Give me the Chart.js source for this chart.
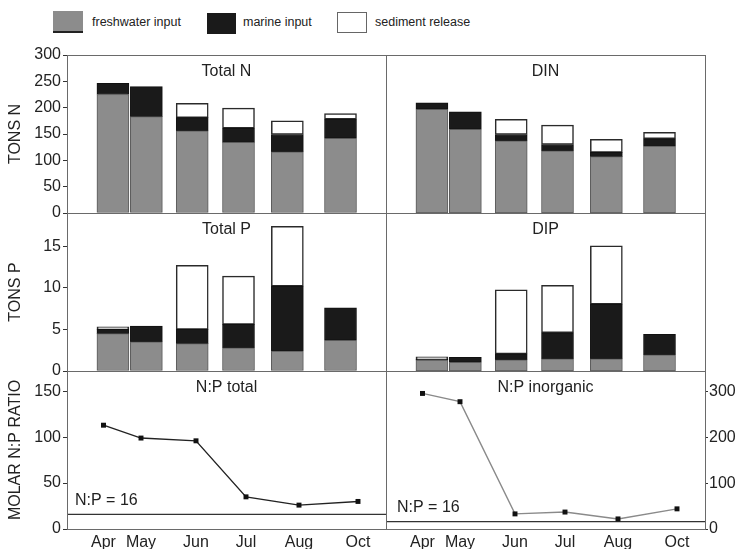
<!DOCTYPE html>
<html>
<head>
<meta charset="utf-8">
<script src="https://cdn.jsdelivr.net/npm/chart.js@4/dist/chart.umd.min.js"></script>
<style>
  html, body { margin: 0; padding: 0; background: #fff; }
  #wrap { position: relative; width: 739px; height: 549px; overflow: hidden; background: #fff; }
  #wrap canvas { position: absolute; left: 0; top: 0; }
  .key { position: absolute; box-sizing: border-box; }
  .lbl { position: absolute; top: 14px; font-family: "Liberation Sans", Arial, sans-serif; font-size: 12.5px; color: #222; line-height: 16px; white-space: nowrap; }
</style>
</head>
<body>
<div id="wrap">
  <div class="key" style="left:53px;top:11px;width:30px;height:22px;background:#8c8c8c;border-bottom:2px solid #222;"></div>
  <div class="lbl" style="left:92px;">freshwater input</div>
  <div class="key" style="left:207px;top:13px;width:29px;height:21px;background:#1a1a1a;"></div>
  <div class="lbl" style="left:243px;">marine input</div>
  <div class="key" style="left:337px;top:12px;width:30px;height:21px;background:#fff;border:1px solid #666;"></div>
  <div class="lbl" style="left:375px;">sediment release</div>

  <canvas id="cTotalN" width="739" height="549"></canvas>
  <canvas id="cDIN" width="739" height="549"></canvas>
  <canvas id="cTotalP" width="739" height="549"></canvas>
  <canvas id="cDIP" width="739" height="549"></canvas>
  <canvas id="cRatioT" width="739" height="549"></canvas>
  <canvas id="cRatioI" width="739" height="549"></canvas>
</div>
<script>
// Sampling months and their places along the horizontal axis
const months = ['Apr', 'May', 'Jun', 'Jul', 'Aug', 'Oct'];
const barSlot = [2.7, 6.6, 11.95, 17.35, 23.05, 29.25];
const sampleSlot = [3.65, 7.4, 12.9, 17.9, 23.2, 29.1];

// Total nitrogen budget (tons N)
const totalNFresh = [225, 183, 156, 134, 116, 142];
const totalNMarine = [21, 57, 25, 27, 33, 36];
const totalNSediment = [0, 0, 27, 38, 26, 11];

// Dissolved inorganic nitrogen (tons N)
const dinFresh = [197, 159, 137, 118, 107, 127];
const dinMarine = [12, 33, 12, 12, 8, 14];
const dinSediment = [0, 0, 29, 37, 25, 12];

// Total phosphorus budget (tons P)
const totalPFresh = [4.5, 3.5, 3.3, 2.8, 2.4, 3.7];
const totalPMarine = [0.5, 1.9, 1.7, 2.8, 7.8, 3.9];
const totalPSediment = [0.3, 0, 7.7, 5.8, 7.2, 0];

// Dissolved inorganic phosphorus (tons P)
const dipFresh = [1.3, 1.05, 1.35, 1.45, 1.45, 1.95];
const dipMarine = [0.1, 0.6, 0.7, 3.15, 6.6, 2.45];
const dipSediment = [0.3, 0, 7.7, 5.7, 7.0, 0];

// Molar N:P ratios of the inputs
const ratioTotal = [113, 99, 96, 35, 26, 30];
const ratioInorganic = [296, 278, 33, 37, 22, 44];
const redfieldRatio = 16;

const FONT = '"Liberation Sans", Arial, Helvetica, sans-serif';
const INK = '#222';
const X_MAX = 31.9;

Chart.defaults.font.family = FONT;
Chart.defaults.font.size = 16;
Chart.defaults.color = INK;
Chart.defaults.animation = false;
Chart.defaults.plugins.legend.display = false;
Chart.defaults.plugins.tooltip.enabled = false;

// Frame, panel heading and the N:P = 16 note for every panel
const panelPlugin = {
  id: 'panel',
  afterDraw(chart, args, opts) {
    const { ctx, chartArea: a } = chart;
    ctx.save();
    ctx.fillStyle = INK;
    ctx.font = '16px ' + FONT;
    ctx.textAlign = 'center';
    ctx.textBaseline = 'middle';
    if (opts.title) ctx.fillText(opts.title, (a.left + a.right) / 2, a.top + 17);
    if (opts.note) {
      const y = chart.scales[opts.note.axis].getPixelForValue(redfieldRatio);
      ctx.textAlign = 'left';
      ctx.fillText('N:P = ' + redfieldRatio, a.left + opts.note.dx, y - 14);
    }
    ctx.strokeStyle = '#6a6a6a';
    ctx.lineWidth = 1;
    const l = Math.round(a.left) + 0.5, t = Math.round(a.top) + 0.5;
    ctx.strokeRect(l, t, Math.round(a.right) - Math.round(a.left), Math.round(a.bottom) - Math.round(a.top));
    ctx.restore();
  }
};

const toBarPoints = (vals) => vals.map((v, i) => ({ x: barSlot[i], y: v > 0 ? v : null }));

function barPanel(id, pad, fresh, marine, sediment, yMax, yStep, yTitle, title) {
  const showY = !!yTitle;
  const barBase = { barThickness: 32, borderSkipped: false, stack: 'inputs' };
  new Chart(document.getElementById(id), {
    type: 'bar',
    data: {
      datasets: [
        Object.assign({ label: 'freshwater input', data: toBarPoints(fresh), backgroundColor: '#8c8c8c', borderColor: '#5a5a5a', borderWidth: 1 }, barBase),
        Object.assign({ label: 'marine input', data: toBarPoints(marine), backgroundColor: '#1a1a1a', borderColor: '#111', borderWidth: 1 }, barBase),
        Object.assign({ label: 'sediment release', data: toBarPoints(sediment), backgroundColor: '#ffffff', borderColor: '#2a2a2a', borderWidth: 1.5 }, barBase)
      ]
    },
    options: {
      responsive: false,
      maintainAspectRatio: false,
      layout: { padding: pad },
      scales: {
        x: { type: 'linear', min: 0, max: X_MAX, stacked: true, display: false },
        y: {
          min: 0, max: yMax, stacked: true, display: showY,
          ticks: { stepSize: yStep, includeBounds: false, padding: 2, color: INK },
          grid: { drawOnChartArea: false, tickLength: 4, color: '#333' },
          border: { display: false },
          title: { display: showY, text: yTitle || '', color: INK, font: { size: 16 }, padding: { top: 6, bottom: 0 } },
          afterFit(s) { s.width = showY ? 67 : 0; }
        }
      },
      plugins: { panel: { title } }
    },
    plugins: [panelPlugin]
  });
}

function ratioPanel(id, pad, values, lineColor, axisId, axisOpts, noteDx, title) {
  const scales = {
    x: {
      type: 'linear', min: 0, max: X_MAX,
      afterBuildTicks(s) { s.ticks = sampleSlot.map((v) => ({ value: v })); },
      ticks: { autoSkip: false, maxRotation: 0, padding: 4, color: INK, callback: (v, i) => months[i] },
      grid: { display: false, drawTicks: false },
      border: { display: false },
      afterFit(s) { s.height = 20; }
    }
  };
  scales[axisId] = axisOpts;
  new Chart(document.getElementById(id), {
    type: 'line',
    data: {
      datasets: [
        {
          label: title,
          data: sampleSlot.map((x, i) => ({ x, y: values[i] })),
          yAxisID: axisId,
          borderColor: lineColor, borderWidth: 1.4,
          pointStyle: 'rect', pointRadius: 3.5,
          pointBackgroundColor: '#111', pointBorderColor: '#111', pointBorderWidth: 0
        },
        {
          label: 'N:P = 16',
          data: [{ x: 0, y: redfieldRatio }, { x: X_MAX, y: redfieldRatio }],
          yAxisID: axisId,
          borderColor: '#333', borderWidth: 1.2, pointRadius: 0
        }
      ]
    },
    options: {
      responsive: false,
      maintainAspectRatio: false,
      layout: { padding: pad },
      scales,
      plugins: { panel: { title, note: { axis: axisId, dx: noteDx } } }
    },
    plugins: [panelPlugin]
  });
}

// Row 1: nitrogen
barPanel('cTotalN', { left: 0, top: 55, right: 353, bottom: 336 }, totalNFresh, totalNMarine, totalNSediment, 300, 50, 'TONS N', 'Total N');
barPanel('cDIN', { left: 386, top: 55, right: 34, bottom: 336 }, dinFresh, dinMarine, dinSediment, 300, 50, null, 'DIN');

// Row 2: phosphorus
barPanel('cTotalP', { left: 0, top: 213, right: 353, bottom: 178 }, totalPFresh, totalPMarine, totalPSediment, 19, 5, 'TONS P', 'Total P');
barPanel('cDIP', { left: 386, top: 213, right: 34, bottom: 178 }, dipFresh, dipMarine, dipSediment, 19, 5, null, 'DIP');

// Row 3: N:P ratios
ratioPanel('cRatioT', { left: 0, top: 371, right: 353, bottom: 0 }, ratioTotal, '#222', 'y', {
  position: 'left', min: 0, max: 172,
  ticks: { stepSize: 50, includeBounds: false, padding: 2, color: INK },
  grid: { drawOnChartArea: false, tickLength: 4, color: '#333' },
  border: { display: false },
  title: { display: true, text: 'MOLAR N:P RATIO', color: INK, font: { size: 16 }, padding: { top: 6, bottom: 0 } },
  afterFit(s) { s.width = 67; }
}, 8, 'N:P total');

ratioPanel('cRatioI', { left: 386, top: 371, right: 0, bottom: 0 }, ratioInorganic, '#8a8a8a', 'yR', {
  position: 'right', min: 0, max: 345,
  ticks: { stepSize: 100, includeBounds: false, padding: 1, color: INK },
  grid: { drawOnChartArea: false, tickLength: 3, color: '#333' },
  border: { display: false },
  afterFit(s) { s.width = 34; }
}, 11, 'N:P inorganic');
</script>
</body>
</html>
